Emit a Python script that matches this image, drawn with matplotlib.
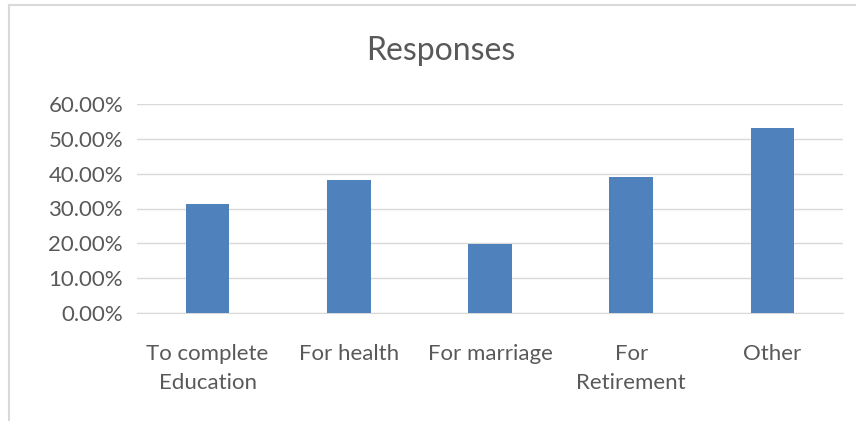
import matplotlib
matplotlib.use("Agg")
import matplotlib.pyplot as plt
from matplotlib.lines import Line2D
from matplotlib.ticker import FuncFormatter

categories = ["To complete\nEducation", "For health", "For marriage", "For\nRetirement", "Other"]
values = [0.312, 0.383, 0.198, 0.390, 0.531]
yticks = [0.0, 0.1, 0.2, 0.3, 0.4, 0.5, 0.6]

plt.rcParams['font.family'] = ['Lato', 'DejaVu Sans']
text_color = '#595959'
grid_color = '#d9d9d9'
bar_color = '#4f81bd'

fig = plt.figure(figsize=(8.56, 4.21), dpi=100)
ax = fig.add_axes([137/856, 1-313/421, (843-137)/856, (313-104)/421])

x = list(range(len(categories)))
ax.bar(x, values, width=0.31, color=bar_color, zorder=3)
ax.set_xlim(-0.5, len(categories)-0.5)
ax.set_ylim(0, 0.6)
ax.set_yticks(yticks)
ax.yaxis.set_major_formatter(FuncFormatter(lambda v, p: f"{v*100:.2f}%"))
ax.set_xticks(x)
ax.set_xticklabels(categories, linespacing=1.6)
ax.tick_params(axis='both', length=0, colors=text_color, labelsize=16)
ax.tick_params(axis='x', pad=22)
ax.tick_params(axis='y', pad=10)
for lab in ax.get_yticklabels():
    lab.set_color(text_color)
ax.grid(axis='y', color=grid_color, linewidth=1, zorder=0)
for s in ['top', 'right', 'left']:
    ax.spines[s].set_visible(False)
ax.spines['bottom'].set_color(grid_color)

fig.text(441/856, 1-51/421, "Responses", ha='center', va='center', fontsize=23, color=text_color)

fig.add_artist(Line2D([9/856, 9/856], [0, 1-5/421], color=grid_color, linewidth=1.5, transform=fig.transFigure))
fig.add_artist(Line2D([9/856, 1], [1-5/421, 1-5/421], color=grid_color, linewidth=1.5, transform=fig.transFigure))

fig.savefig("out.png", dpi=100)
